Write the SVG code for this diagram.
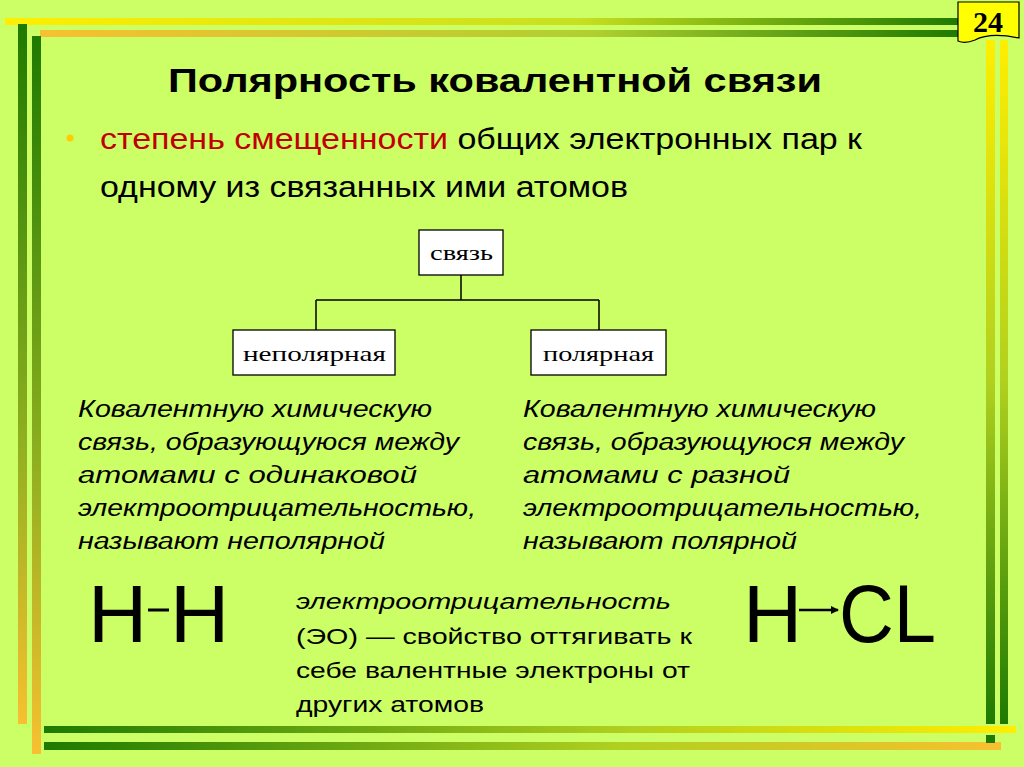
<svg xmlns="http://www.w3.org/2000/svg" width="1024" height="767" viewBox="0 0 1024 767">
<defs>
<linearGradient id="gTop" x1="0" x2="1"><stop offset="0" stop-color="#ffee00"/><stop offset="0.6" stop-color="#c8e020"/><stop offset="1" stop-color="#1e7a00"/></linearGradient>
<linearGradient id="gTop2" x1="0" x2="1"><stop offset="0" stop-color="#f8c030"/><stop offset="0.6" stop-color="#b0d030"/><stop offset="1" stop-color="#1e7a00"/></linearGradient>
<linearGradient id="gLeft" x1="0" y1="0" x2="0" y2="1"><stop offset="0" stop-color="#1e7a00"/><stop offset="0.6" stop-color="#90b020"/><stop offset="1" stop-color="#f8c030"/></linearGradient>
<linearGradient id="gBot" x1="0" x2="1"><stop offset="0" stop-color="#1e7a00"/><stop offset="0.6" stop-color="#b0d020"/><stop offset="1" stop-color="#ffee00"/></linearGradient>
<linearGradient id="gBot2" x1="0" x2="1"><stop offset="0" stop-color="#1e7a00"/><stop offset="0.6" stop-color="#b0d020"/><stop offset="1" stop-color="#f8c030"/></linearGradient>
<linearGradient id="gRight" x1="0" y1="0" x2="0" y2="1"><stop offset="0" stop-color="#ffee00"/><stop offset="0.5" stop-color="#b0d020"/><stop offset="1" stop-color="#1e7a00"/></linearGradient>
<marker id="arr" markerWidth="8" markerHeight="8" refX="7" refY="4" orient="auto" markerUnits="userSpaceOnUse"><path d="M0,0 L8,4 L0,8 z" fill="#000"/></marker>
<style>
.box{fill:#fff;stroke:#000;stroke-width:1.3}
.bt{font-family:"Liberation Serif",serif;font-size:22px;fill:#000}
.it{font-family:"Liberation Sans",sans-serif;font-size:23px;font-style:italic;fill:#000}
.big{font-family:"Liberation Sans",sans-serif;font-size:82px;fill:#000}
.eo{font-family:"Liberation Sans",sans-serif;font-size:22px;fill:#000}
.ln{stroke:#000;stroke-width:1.5;fill:none}
</style>
</defs>
<rect width="1024" height="767" fill="#ccfe66"/>
<rect x="5" y="18" width="955" height="7" fill="url(#gTop)"/>
<rect x="40" y="30" width="920" height="7" fill="url(#gTop2)"/>
<rect x="18" y="24" width="9" height="700" fill="url(#gLeft)"/>
<rect x="32" y="36" width="9" height="718" fill="url(#gLeft)"/>
<rect x="44" y="726" width="972" height="7" fill="url(#gBot)"/>
<rect x="44" y="742" width="957" height="8" fill="url(#gBot2)"/>
<rect x="986" y="40" width="9" height="684" fill="url(#gRight)"/>
<rect x="1000" y="40" width="8" height="684" fill="url(#gRight)"/>
<rect x="986" y="735" width="9" height="8" fill="#1e7a00"/>
<g id="page"><path d="M958,2 H1019 V38 Q990,32 975,40 Q965,44 958,41 Z" fill="#ffff00" stroke="#000" stroke-width="1.2"/>
<text x="988" y="32" font-family="Liberation Serif,serif" font-size="30" font-weight="bold" text-anchor="middle">24</text></g>
<text x="168" y="92" font-family="Liberation Sans,sans-serif" font-size="34" font-weight="bold" textLength="654" lengthAdjust="spacingAndGlyphs">Полярность ковалентной связи</text>
<circle cx="70" cy="138" r="3.5" fill="#ffcc00"/>
<text x="100" y="149" font-family="Liberation Sans,sans-serif" font-size="30" textLength="762" lengthAdjust="spacingAndGlyphs"><tspan fill="#c00000">степень смещенности</tspan> общих электронных пар к</text>
<text x="100" y="197" font-family="Liberation Sans,sans-serif" font-size="30" textLength="528" lengthAdjust="spacingAndGlyphs">одному из связанных ими атомов</text>
<g id="connectors">
<path class="ln" d="M461,275 V300 M316,300 H599 M316,300 V330 M599,300 V330"/>
</g>
<g id="n-svyaz"><rect class="box" x="419" y="230" width="84" height="45"/><text class="bt" x="430" y="260" textLength="63" lengthAdjust="spacingAndGlyphs">связь</text></g>
<g id="n-nepol"><rect class="box" x="233" y="330" width="162" height="45"/><text class="bt" x="243" y="361" textLength="143" lengthAdjust="spacingAndGlyphs">неполярная</text></g>
<g id="n-pol"><rect class="box" x="531" y="330" width="135" height="45"/><text class="bt" x="543" y="361" textLength="111" lengthAdjust="spacingAndGlyphs">полярная</text></g>
<g class="it">
<text x="78" y="417" textLength="354" lengthAdjust="spacingAndGlyphs">Ковалентную химическую</text>
<text x="78" y="450" textLength="381" lengthAdjust="spacingAndGlyphs">связь, образующуюся между</text>
<text x="78" y="483" textLength="339" lengthAdjust="spacingAndGlyphs">атомами с одинаковой</text>
<text x="78" y="516" textLength="398" lengthAdjust="spacingAndGlyphs">электроотрицательностью,</text>
<text x="78" y="549" textLength="307" lengthAdjust="spacingAndGlyphs">называют неполярной</text>
<text x="523" y="417" textLength="353" lengthAdjust="spacingAndGlyphs">Ковалентную химическую</text>
<text x="523" y="450" textLength="381" lengthAdjust="spacingAndGlyphs">связь, образующуюся между</text>
<text x="523" y="483" textLength="267" lengthAdjust="spacingAndGlyphs">атомами с разной</text>
<text x="523" y="516" textLength="399" lengthAdjust="spacingAndGlyphs">электроотрицательностью,</text>
<text x="523" y="549" textLength="274" lengthAdjust="spacingAndGlyphs">называют полярной</text>
</g>
<text class="big" x="88" y="642">H</text>
<line x1="148" y1="610" x2="169" y2="610" stroke="#000" stroke-width="3"/>
<text class="big" x="170" y="642">H</text>
<text class="big" x="743" y="642">H</text>
<line x1="799" y1="610" x2="838" y2="610" stroke="#000" stroke-width="2.5" marker-end="url(#arr)"/>
<text class="big" x="839" y="642" textLength="97" lengthAdjust="spacingAndGlyphs">CL</text>
<text class="eo" x="296" y="609" font-style="italic" textLength="375" lengthAdjust="spacingAndGlyphs">электроотрицательность</text>
<text class="eo" x="296" y="644" textLength="396" lengthAdjust="spacingAndGlyphs">(ЭО) — свойство оттягивать к</text>
<text class="eo" x="296" y="678" textLength="394" lengthAdjust="spacingAndGlyphs">себе валентные электроны от</text>
<text class="eo" x="296" y="712" textLength="188" lengthAdjust="spacingAndGlyphs">других атомов</text>
</svg>
